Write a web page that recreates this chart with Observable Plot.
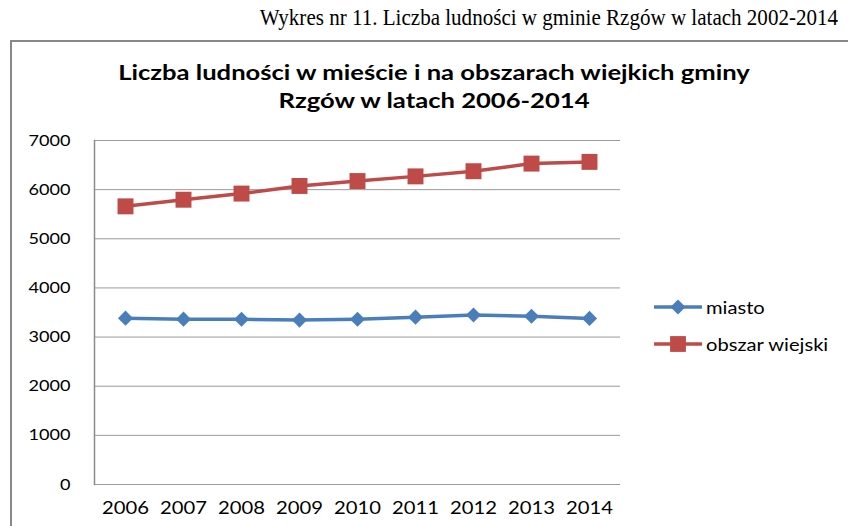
<!DOCTYPE html>
<html><head><meta charset="utf-8">
<script src="https://cdn.jsdelivr.net/npm/d3@7"></script>
<script src="https://cdn.jsdelivr.net/npm/@observablehq/plot@0.6"></script>
<style>
body{margin:0;background:#fff}
#wrap{position:relative;width:848px;height:526px;overflow:hidden;background:#fff}
#frame{position:absolute;left:10px;top:40px;width:900px;height:600px;border-left:2px solid #888;border-top:2px solid #888}
#head{position:absolute;right:10px;top:5px;font-family:"Liberation Serif","Times New Roman",serif;font-size:23px;color:#000;white-space:nowrap;transform:scaleX(0.915);transform-origin:right center}
#title{position:absolute;left:0;width:868px;top:58px;text-align:center;font-family:Lato,sans-serif;font-weight:bold;font-size:20px;line-height:28px;color:#000;transform:scaleX(1.28);transform-origin:434px 0}
#chart{position:absolute;left:0;top:0}
#legend{position:absolute;left:654px;top:292px;font-family:Lato,sans-serif;font-size:18px;color:#000}
.li{display:flex;align-items:center;height:30px;margin-bottom:7px}
.li svg{margin-right:4px}
.li span{display:inline-block;transform:scaleX(1.12);transform-origin:left center}
</style></head>
<body>
<div id="wrap">
  <div id="frame"></div>
  <div id="head"></div>
  <div id="title"></div>
  <div id="chart"></div>
  <div id="legend"></div>
</div>
<script>
const years = ["2006","2007","2008","2009","2010","2011","2012","2013","2014"];
const miasto = [3385, 3365, 3362, 3345, 3362, 3405, 3450, 3425, 3380];
const obszarWiejski = [5660, 5795, 5920, 6075, 6175, 6270, 6375, 6530, 6565];
const yTicks = [0, 1000, 2000, 3000, 4000, 5000, 6000, 7000];
const seriesNames = ["miasto", "obszar wiejski"];
const seriesColors = ["#4a7ebb", "#be4b48"];
const headText = "Wykres nr 11. Liczba ludności w gminie Rzgów w latach 2002-2014";
const titleLines = ["Liczba ludności w mieście i na obszarach wiejkich gminy", "Rzgów w latach 2006-2014"];

document.getElementById("head").textContent = headText;
document.getElementById("title").innerHTML = titleLines.join("<br>");

const dataM = years.map((y, i) => ({year: y, value: miasto[i], series: seriesNames[0]}));
const dataO = years.map((y, i) => ({year: y, value: obszarWiejski[i], series: seriesNames[1]}));

const chart = Plot.plot({
  width: 848, height: 526,
  marginLeft: 94, marginRight: 228, marginTop: 140, marginBottom: 42,
  style: {fontFamily: "Lato, sans-serif", fontSize: "16px", color: "#000", background: "transparent"},
  x: {type: "point", domain: years, padding: 0.5, label: null},
  y: {domain: [0, 7000], label: null},
  color: {domain: seriesNames, range: seriesColors},
  marks: [
    Plot.gridY(yTicks, {stroke: "#9a9a9a", strokeOpacity: 1, strokeWidth: 1}),
    Plot.frame({anchor: "left", stroke: "#8a8a8a", strokeWidth: 1.5}),
    Plot.axisY(yTicks, {tickSize: 0, tickPadding: 24, tickFormat: d => String(d), fill: "#000", fontSize: 16, className: "ay"}),
    Plot.axisX({tickSize: 0, tickPadding: 17, fill: "#000", fontSize: 17, className: "ax"}),
    Plot.line(dataM, {x: "year", y: "value", stroke: "series", strokeWidth: 3.5}),
    Plot.line(dataO, {x: "year", y: "value", stroke: "series", strokeWidth: 3.5}),
    Plot.dot(dataM, {x: "year", y: "value", fill: "series", symbol: "diamond2", r: 6.8, stroke: null}),
    Plot.dot(dataO, {x: "year", y: "value", fill: "series", symbol: "square", r: 9, stroke: null})
  ]
});
document.getElementById("chart").appendChild(chart);

// widen tick labels horizontally, as in the (stretched) reference
d3.select(chart).selectAll("text").each(function() {
  const k = this.closest(".ax") ? 1.19 : 1.13;
  const w = this.getComputedTextLength();
  if (w > 0) {
    this.setAttribute("textLength", w * k);
    this.setAttribute("lengthAdjust", "spacingAndGlyphs");
  }
});

const legend = d3.select("#legend");
const symbols = [d3.symbolDiamond2, d3.symbolSquare];
const sizes = [145, 250];
seriesNames.forEach((name, i) => {
  const item = legend.append("div").attr("class", "li");
  const s = item.append("svg").attr("width", 48).attr("height", 20);
  s.append("line").attr("x1", 0).attr("x2", 48).attr("y1", 10).attr("y2", 10)
    .attr("stroke", seriesColors[i]).attr("stroke-width", 3.5);
  s.append("path").attr("transform", "translate(24,10)")
    .attr("d", d3.symbol(symbols[i], sizes[i])()).attr("fill", seriesColors[i]);
  item.append("span").text(name);
});
</script>
</body></html>
